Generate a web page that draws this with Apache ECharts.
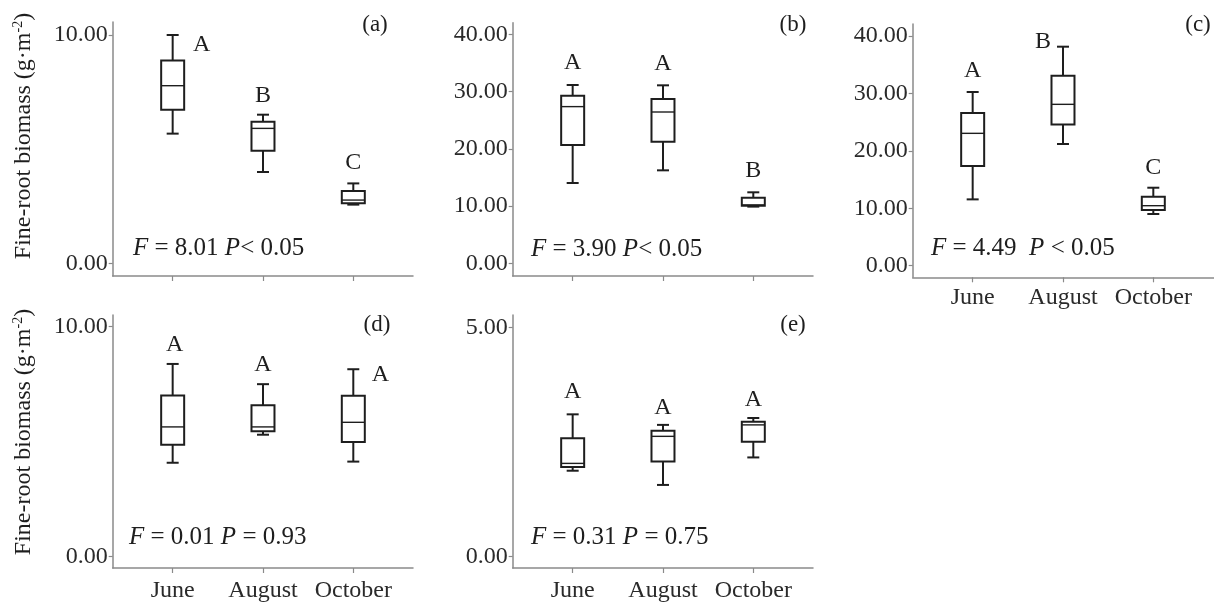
<!DOCTYPE html>
<html><head><meta charset="utf-8">
<script src="https://cdn.jsdelivr.net/npm/echarts@6/dist/echarts.min.js"></script>
<style>html,body{margin:0;padding:0;background:#fff}#c{width:1214px;height:603px}</style>
</head><body><div id="c"></div>
<script>
// ---------- data ----------
const months = ['June', 'August', 'October'];
// each box: [min, Q1, median, Q3, max]
const boxA = [[5.68, 6.73, 7.78, 8.88, 10.0], [4.0, 4.93, 5.91, 6.20, 6.51], [2.57, 2.63, 2.77, 3.17, 3.50]];
const boxB = [[14.03, 20.67, 27.37, 29.29, 31.15], [16.24, 21.25, 26.43, 28.70, 31.09], [9.9, 10.05, 10.2, 11.46, 12.4]];
const boxC = [[11.55, 17.36, 23.05, 26.59, 30.25], [21.19, 24.6, 28.1, 33.09, 38.14], [9.0, 9.7, 10.45, 12.02, 13.58]];
const boxD = [[4.08, 4.86, 5.64, 7.01, 8.38], [5.30, 5.45, 5.64, 6.58, 7.50], [4.13, 4.98, 5.84, 7.00, 8.15]];
const boxE = [[1.87, 1.95, 2.03, 2.58, 3.10], [1.56, 2.07, 2.62, 2.74, 2.87], [2.16, 2.50, 2.87, 2.94, 3.02]];
const lettersA = ['A', 'B', 'C'];
const lettersB = ['A', 'A', 'B'];
const lettersC = ['A', 'B', 'C'];
const lettersD = ['A', 'A', 'A'];
const lettersE = ['A', 'A', 'A'];
const yTicksA = [0, 10];
const yTicksB = [0, 10, 20, 30, 40];
const yTicksC = [0, 10, 20, 30, 40];
const yTicksD = [0, 10];
const yTicksE = [0, 5];
const panelLabels = ['(a)', '(b)', '(c)', '(d)', '(e)'];
const statTexts = [
  '{i|F} = 8.01 {i|P}< 0.05',
  '{i|F} = 3.90 {i|P}< 0.05',
  '{i|F} = 4.49  {i|P} < 0.05',
  '{i|F} = 0.01 {i|P} = 0.93',
  '{i|F} = 0.31 {i|P} = 0.75'
];
const yTitle = 'Fine-root biomass (g·m{s|-2})';

// ---------- layout / style ----------
const FONT = '"Liberation Serif", "Times New Roman", serif';
const AXIS_COLOR = '#8a8a8a';
const INK = '#1e1e1e';
const panels = [
  { box: boxA, letters: lettersA, ticks: yTicksA, showX: false, xMargin: 8, left: 112.7, top: 22, width: 300.3, height: 254, ymin: -0.556, ymax: 10.57, xmax: 3.661,
    off: [[29, 10], [0, -19], [0, -21]], lab: [375, 25], stat: [133, 248] },
  { box: boxB, letters: lettersB, ticks: yTicksB, showX: false, xMargin: 8, left: 512.7, top: 22.7, width: 300.3, height: 253.3, ymin: -2.22, ymax: 42.03, xmax: 3.661,
    off: [[0, -22], [0, -22], [0, -22]], lab: [793, 25], stat: [531, 249] },
  { box: boxC, letters: lettersC, ticks: yTicksC, showX: true, xMargin: 8, left: 912.7, top: 24, width: 301.3, height: 253.3, ymin: -2.02, ymax: 42.09, xmax: 3.672,
    off: [[0, -21], [-20, -5], [0, -20]], lab: [1198, 25], stat: [931, 248] },
  { box: boxD, letters: lettersD, ticks: yTicksD, showX: true, xMargin: 11, left: 112.7, top: 315, width: 300.3, height: 254.3, ymin: -0.50, ymax: 10.51, xmax: 3.661,
    off: [[2, -19], [0, -19], [27, 5]], lab: [377, 325], stat: [129, 537] },
  { box: boxE, letters: lettersE, ticks: yTicksE, showX: true, xMargin: 11, left: 512.7, top: 315, width: 300.3, height: 254.3, ymin: -0.252, ymax: 5.267, xmax: 3.661,
    off: [[0, -23], [0, -17], [0, -18]], lab: [793, 325], stat: [531, 537] }
];

const grids = [], xAxes = [], yAxes = [], series = [], graphics = [];
panels.forEach((p, k) => {
  grids.push({ left: p.left, top: p.top, width: p.width, height: p.height, containLabel: false });
  xAxes.push({
    type: 'value', gridIndex: k, min: 0.336, max: p.xmax,
    axisLine: { show: true, onZero: false, lineStyle: { color: AXIS_COLOR, width: 1.5 } },
    axisTick: { show: true, customValues: [1, 2, 3], length: 5, lineStyle: { color: AXIS_COLOR, width: 1.2 } },
    axisLabel: { show: p.showX, customValues: [1, 2, 3], margin: p.xMargin, formatter: v => months[Math.round(v) - 1] || '',
      fontFamily: FONT, fontSize: 24, color: '#2a2a2a' },
    splitLine: { show: false }
  });
  yAxes.push({
    type: 'value', gridIndex: k, min: p.ymin, max: p.ymax,
    axisLine: { show: true, onZero: false, lineStyle: { color: AXIS_COLOR, width: 1.5 } },
    axisTick: { show: true, customValues: p.ticks, length: 4, lineStyle: { color: AXIS_COLOR, width: 1.2 } },
    axisLabel: { show: true, customValues: p.ticks, margin: 5, formatter: v => v.toFixed(2),
      fontFamily: FONT, fontSize: 24, color: '#2a2a2a' },
    splitLine: { show: false }
  });
  const data = p.box.map((b, i) => [i + 1].concat(b));
  series.push({
    type: 'custom', xAxisIndex: k, yAxisIndex: k, data: data,
    encode: { x: 0, y: [1, 2, 3, 4, 5] },
    silent: true,
    renderItem: function (params, api) {
      const x = api.value(0);
      const pMin = api.coord([x, api.value(1)]);
      const pQ1 = api.coord([x, api.value(2)]);
      const pMed = api.coord([x, api.value(3)]);
      const pQ3 = api.coord([x, api.value(4)]);
      const pMax = api.coord([x, api.value(5)]);
      const cx = pMin[0];
      const hw = 11.5, cw = 6;
      const ls = { stroke: INK, lineWidth: 2, fill: null };
      const off = p.off[params.dataIndex];
      return {
        type: 'group',
        children: [
          { type: 'line', shape: { x1: cx, y1: pQ3[1], x2: cx, y2: pMax[1] }, style: ls },
          { type: 'line', shape: { x1: cx - cw, y1: pMax[1], x2: cx + cw, y2: pMax[1] }, style: ls },
          { type: 'line', shape: { x1: cx, y1: pQ1[1], x2: cx, y2: pMin[1] }, style: ls },
          { type: 'line', shape: { x1: cx - cw, y1: pMin[1], x2: cx + cw, y2: pMin[1] }, style: ls },
          { type: 'rect', shape: { x: cx - hw, y: pQ3[1], width: hw * 2, height: pQ1[1] - pQ3[1] }, style: { stroke: INK, lineWidth: 2, fill: '#fff' } },
          { type: 'line', shape: { x1: cx - hw, y1: pMed[1], x2: cx + hw, y2: pMed[1] }, style: { stroke: INK, lineWidth: 1.4 } },
          { type: 'text', x: cx + off[0], y: pMax[1] + off[1],
            style: { text: p.letters[params.dataIndex], fontFamily: FONT, fontSize: 24, fill: INK, align: 'center', verticalAlign: 'middle' } }
        ]
      };
    }
  });
  graphics.push({ type: 'text', x: p.lab[0], y: p.lab[1],
    style: { text: panelLabels[k], fontFamily: FONT, fontSize: 23, fill: INK, align: 'center', verticalAlign: 'middle' } });
  graphics.push({ type: 'text', x: p.stat[0], y: p.stat[1],
    style: { text: statTexts[k], fontFamily: FONT, fontSize: 25, fill: INK, align: 'left', verticalAlign: 'middle',
      rich: { i: { fontFamily: FONT, fontSize: 25, fontStyle: 'italic', fill: INK } } } });
});
[[24, 136], [24, 432]].forEach(pos => {
  graphics.push({ type: 'text', x: pos[0], y: pos[1], rotation: Math.PI / 2,
    style: { text: yTitle, fontFamily: FONT, fontSize: 24, fill: INK, align: 'center', verticalAlign: 'middle', lineHeight: 26,
      rich: { s: { fontFamily: FONT, fontSize: 14, fill: INK, verticalAlign: 'top', lineHeight: 26 } } } });
});

const chart = echarts.init(document.getElementById('c'), null, { renderer: 'canvas' });
chart.setOption({
  backgroundColor: '#fff',
  animation: false,
  grid: grids, xAxis: xAxes, yAxis: yAxes, series: series, graphic: graphics
});
</script></body></html>
